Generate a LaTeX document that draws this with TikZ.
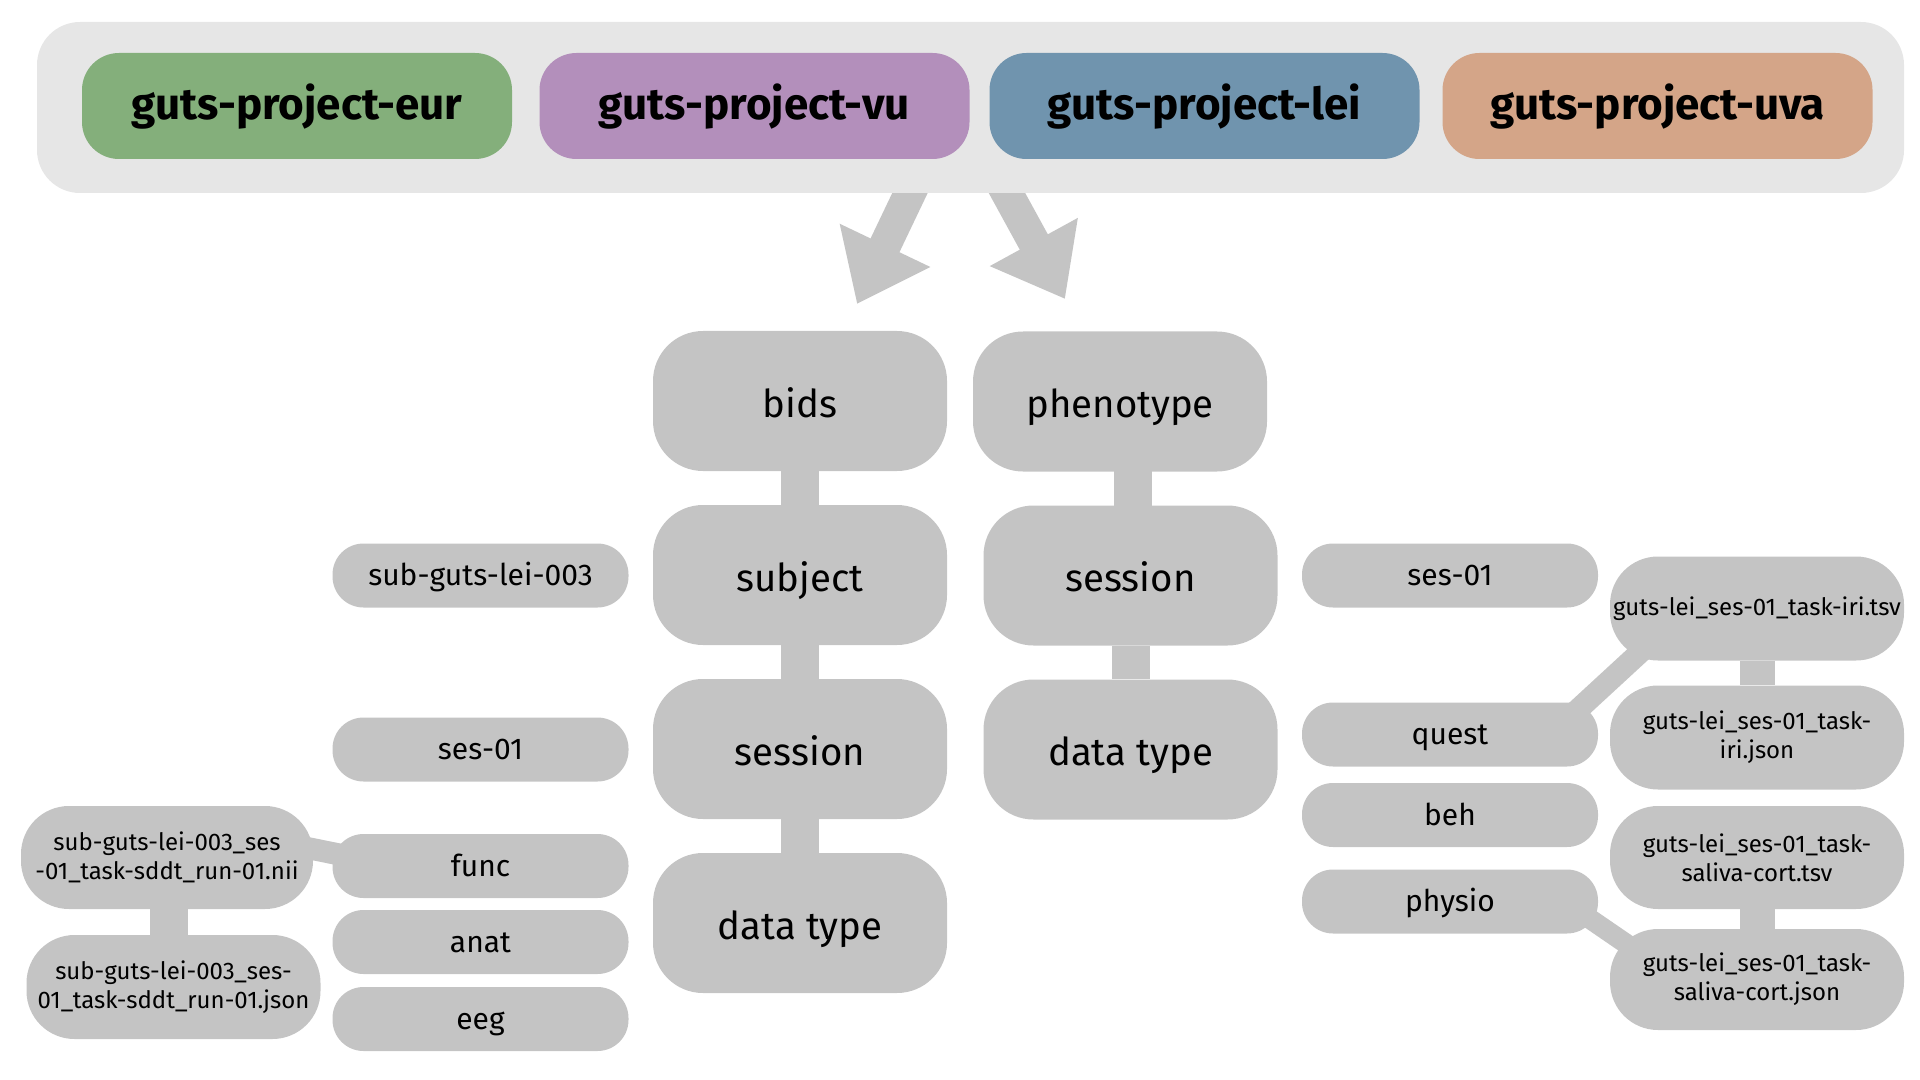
\documentclass[tikz,border=0pt]{standalone}
\usepackage{fontspec}
\setmainfont{Fira Sans}
\usetikzlibrary{arrows.meta,calc,backgrounds}
\definecolor{bannerbg}{HTML}{E6E6E6}
\definecolor{boxgrey}{HTML}{C4C4C4}
\definecolor{pgreen}{HTML}{84AF7B}
\definecolor{ppurple}{HTML}{B38FBB}
\definecolor{pblue}{HTML}{7094AE}
\definecolor{porange}{HTML}{D4A588}
\begin{document}
\begin{tikzpicture}[x=0.5pt,y=-0.5pt,
  bigbox/.style={fill=boxgrey, rounded corners=25pt, minimum width=147pt, minimum height=70pt, inner sep=0pt, text height=18pt, text depth=2pt, font=\fontsize{19.2}{23}\selectfont},
  pillbox/.style={fill=boxgrey, rounded corners=15.5pt, minimum width=148pt, minimum height=32pt, inner sep=0pt, text height=12pt, text depth=2pt, font=\fontsize{15}{18}\selectfont},
  filebox/.style={fill=boxgrey, rounded corners=24pt, minimum width=147pt, minimum height=52pt, inner sep=0pt, align=center, font=\fontsize{12}{14.5}\selectfont},
  projbox/.style={rounded corners=18.5pt, minimum width=215pt, minimum height=53pt, inner sep=0pt, text height=17pt, text depth=3pt, font=\bfseries\fontsize{22}{26}\selectfont},
  bar/.style={draw=boxgrey, line width=19pt},
  thinbar/.style={draw=boxgrey, line width=11pt},
  bigarrow/.style={draw=boxgrey, fill=boxgrey, line width=16pt, -{Triangle[length=32.5pt, width=48pt]}}
]
\useasboundingbox (0,0) rectangle (1920,1080);

% arrows from the banner
\coordinate (a1s) at (920,172);
\coordinate (a1e) at (857,304);
\coordinate (a2s) at (996,173);
\coordinate (a2e) at (1065,299);
\draw[bigarrow] (a1s) -- (a1e);
\draw[bigarrow] (a2s) -- (a2e);

% banner
\node[fill=bannerbg, rounded corners=21.5pt, minimum width=933.5pt, minimum height=85.5pt, inner sep=0pt] (banner) at (970.5,107.5) {};
\node[projbox, fill=pgreen]  (eur) at (297,106)    {guts-project-eur};
\node[projbox, fill=ppurple] (vu)  at (754.5,106)  {guts-project-vu};
\node[projbox, fill=pblue]   (lei) at (1204.5,106) {guts-project-lei};
\node[projbox, fill=porange] (uva) at (1657.5,106) {guts-project-uva};

% bids column
\node[bigbox] (bids)    at (800,401) {bids};
\node[bigbox] (subject) at (800,575) {subject};
\node[bigbox] (sesA)    at (800,749) {session};
\node[bigbox] (dtA)     at (800,923) {data type};

% phenotype column
\node[bigbox] (phen) at (1120,401.5) {phenotype};
\node[bigbox] (sesB) at (1130.5,575.5) {session};
\node[bigbox] (dtB)  at (1130.5,749.5) {data type};

% left pills
\node[pillbox] (subL) at (480.5,575.5) {sub-guts-lei-003};
\node[pillbox] (sesL) at (480.5,749.5) {ses-01};
\node[pillbox] (func) at (480.5,866)   {func};
\node[pillbox] (anat) at (480.5,942)   {anat};
\node[pillbox] (eeg)  at (480.5,1019)  {eeg};

% right pills
\node[pillbox] (sesR)   at (1450,575.5) {ses-01};
\node[pillbox] (quest)  at (1450,734.5) {quest};
\node[pillbox] (beh)    at (1450,815)   {beh};
\node[pillbox] (physio) at (1450,901.5) {physio};

% left files
\node[filebox, minimum width=146pt, minimum height=51.5pt] (nii)  at (167,857.5) {sub-guts-lei-003\_ses\\-01\_task-sddt\_run-01.nii};
\node[filebox] (json) at (173.5,987) {sub-guts-lei-003\_ses-\\01\_task-sddt\_run-01.json};

% right files
\node[filebox] (irit) at (1757,608.5) {guts-lei\_ses-01\_task-iri.tsv};
\node[filebox] (irij) at (1757,737.5) {guts-lei\_ses-01\_task-\\iri.json};
\node[filebox, minimum height=51.5pt] (salt) at (1757,857.5) {guts-lei\_ses-01\_task-\\saliva-cort.tsv};
\node[filebox, minimum height=50.5pt] (salj) at (1757,979.5) {guts-lei\_ses-01\_task-\\saliva-cort.json};

% connectors
\begin{scope}[on background layer]
\draw[bar] (bids) -- (subject);
\draw[bar] (subject) -- (sesA);
\draw[bar] (sesA) -- (dtA);
\draw[bar] ($(sesB.center |- phen.center)+(2.5,0)$) -- ($(sesB.center)+(2.5,0)$);
\draw[bar] (sesB) -- (dtB);
\draw[bar] ($(nii.center)+(1.5,0)$) -- ($(nii.center |- json.center)+(1.5,0)$);
\draw[bar, line width=17.5pt] (irit) -- (irij);
\draw[bar, line width=17.5pt] (salt) -- (salj);
\draw[thinbar] ($(nii.east)+(-63,-21)$) -- ($(func.west)+(47.5,-3.4)$);
\draw[thinbar] ($(quest.east)+(-37.5,-9.2)$) -- ($(irit.west)+(50.5,25.4)$);
\draw[thinbar, line width=10pt] ($(physio.east)+(-37.5,-2.5)$) -- ($(salj.west)+(50.5,-12.5)$);
\end{scope}
\end{tikzpicture}
\end{document}
